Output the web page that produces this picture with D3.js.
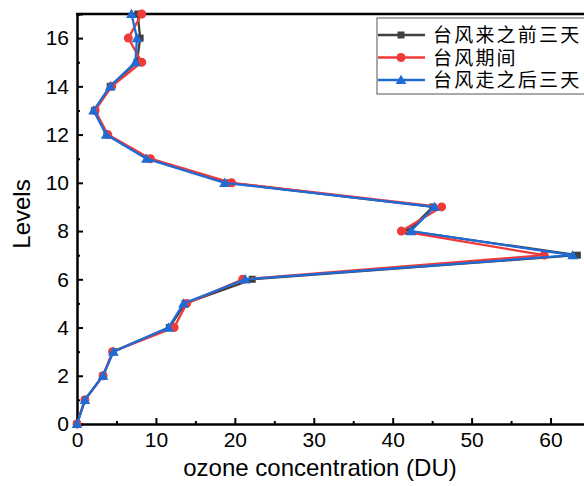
<!DOCTYPE html>
<html>
<head>
<meta charset="utf-8">
<script src="https://cdnjs.cloudflare.com/ajax/libs/d3/7.8.5/d3.min.js"></script>
<style>
  body { margin: 0; background: #fff; }
  svg { display: block; font-family: "Liberation Sans", Arial, sans-serif; }
</style>
</head>
<body>
<svg id="chart" width="584" height="486"></svg>
<script>
// niveles 0..17
const levels = [0, 1, 2, 3, 4, 5, 6, 7, 8, 9, 10, 11, 12, 13, 14, 15, 16, 17];
const before = [0, 1.0, 3.3, 4.6, 11.7, 13.7, 22.2, 63.4, 42.0, 45.1, 19.3, 9.0, 3.8, 2.2, 4.2, 7.6, 8.0, 7.7];
const during = [0, 1.0, 3.3, 4.5, 12.3, 13.9, 21.0, 59.2, 41.1, 46.2, 19.6, 9.3, 3.9, 2.3, 4.4, 8.2, 6.5, 8.2];
const after  = [0, 1.0, 3.3, 4.6, 11.6, 13.5, 21.3, 62.8, 42.3, 45.3, 18.7, 8.8, 3.7, 2.1, 4.2, 7.4, 7.6, 6.9];
const seriesNames = ["台风来之前三天", "台风期间", "台风走之后三天"];
const xTicks = [0, 10, 20, 30, 40, 50, 60];
const yTicks = [0, 2, 4, 6, 8, 10, 12, 14, 16];

const series = [
  { name: seriesNames[0], values: before, color: "#404040", marker: "square" },
  { name: seriesNames[1], values: during, color: "#f03a3a", marker: "circle" },
  { name: seriesNames[2], values: after,  color: "#1f6bd6", marker: "triangle" }
];

const svg = d3.select("#chart");
const mLeft = 77, mTop = 14, mBottom = 424, mRight = 590;

const x = d3.scaleLinear().domain([0, 65]).range([mLeft, mRight]);
const y = d3.scaleLinear().domain([0, 17]).range([mBottom, mTop]);

// ejes con ticks hacia adentro
svg.append("g").attr("transform", `translate(0,${mBottom})`)
  .call(d3.axisBottom(x).tickValues(xTicks).tickSize(-6).tickPadding(8).tickFormat(d3.format("d")));
svg.append("g").attr("transform", `translate(0,${mBottom})`)
  .call(d3.axisBottom(x).tickValues(d3.range(5, 65, 10)).tickSize(-3).tickFormat(""));
svg.append("g").attr("transform", `translate(${mLeft},0)`)
  .call(d3.axisLeft(y).tickValues(yTicks).tickSize(-6).tickPadding(8).tickFormat(d3.format("d")));
svg.append("g").attr("transform", `translate(${mLeft},0)`)
  .call(d3.axisLeft(y).tickValues(d3.range(1, 17, 2)).tickSize(-3).tickFormat(""));

svg.selectAll(".domain").attr("stroke", "#000").attr("stroke-width", 2);
svg.selectAll(".tick line").attr("stroke", "#000").attr("stroke-width", 2);
svg.selectAll(".tick text").attr("font-size", 21).attr("fill", "#000")
  .attr("font-family", "'Liberation Sans', Arial, sans-serif");

// borde superior
svg.append("line").attr("x1", mLeft - 1).attr("x2", 584).attr("y1", mTop).attr("y2", mTop)
  .attr("stroke", "#000").attr("stroke-width", 2.5);

const line = d3.line().x(d => x(d[0])).y(d => y(d[1]));

function drawMarker(g, type, cx, cy, color) {
  if (type === "square") {
    g.append("rect").attr("x", cx - 3.5).attr("y", cy - 3.5).attr("width", 7).attr("height", 7).attr("fill", color);
  } else if (type === "circle") {
    g.append("circle").attr("cx", cx).attr("cy", cy).attr("r", 4.5).attr("fill", color);
  } else {
    g.append("path").attr("d", d3.symbol(d3.symbolTriangle, 50)()).attr("transform", `translate(${cx},${cy + 1})`).attr("fill", color);
  }
}

const plot = svg.append("g");
series.forEach(s => {
  const pts = s.values.map((v, i) => [v, levels[i]]);
  plot.append("path").datum(pts).attr("d", line)
    .attr("fill", "none").attr("stroke", s.color).attr("stroke-width", 2.3);
  const mg = plot.append("g");
  pts.forEach(p => drawMarker(mg, s.marker, x(p[0]), y(p[1]), s.color));
});

// leyenda
const lg = svg.append("g");
lg.append("rect").attr("x", 377).attr("y", 18).attr("width", 220).attr("height", 76)
  .attr("fill", "#fff").attr("stroke", "#555").attr("stroke-width", 1);
series.forEach((s, i) => {
  const ly = 35 + i * 22.5;
  lg.append("line").attr("x1", 378).attr("x2", 425).attr("y1", ly).attr("y2", ly)
    .attr("stroke", s.color).attr("stroke-width", 2.3);
  drawMarker(lg, s.marker, 401, ly, s.color);
  lg.append("text").attr("x", 433).attr("y", ly + 7).attr("font-size", 19)
    .attr("letter-spacing", 2.2)
    .attr("font-family", "'Noto Sans CJK SC', sans-serif").attr("fill", "#000").text(s.name);
});

// titulos
svg.append("text").attr("x", 320).attr("y", 476).attr("text-anchor", "middle")
  .attr("font-size", 24).attr("fill", "#000").text("ozone concentration (DU)");
svg.append("text").attr("transform", `translate(30,214) rotate(-90)`).attr("text-anchor", "middle")
  .attr("font-size", 24).attr("fill", "#000").text("Levels");
</script>
</body>
</html>
